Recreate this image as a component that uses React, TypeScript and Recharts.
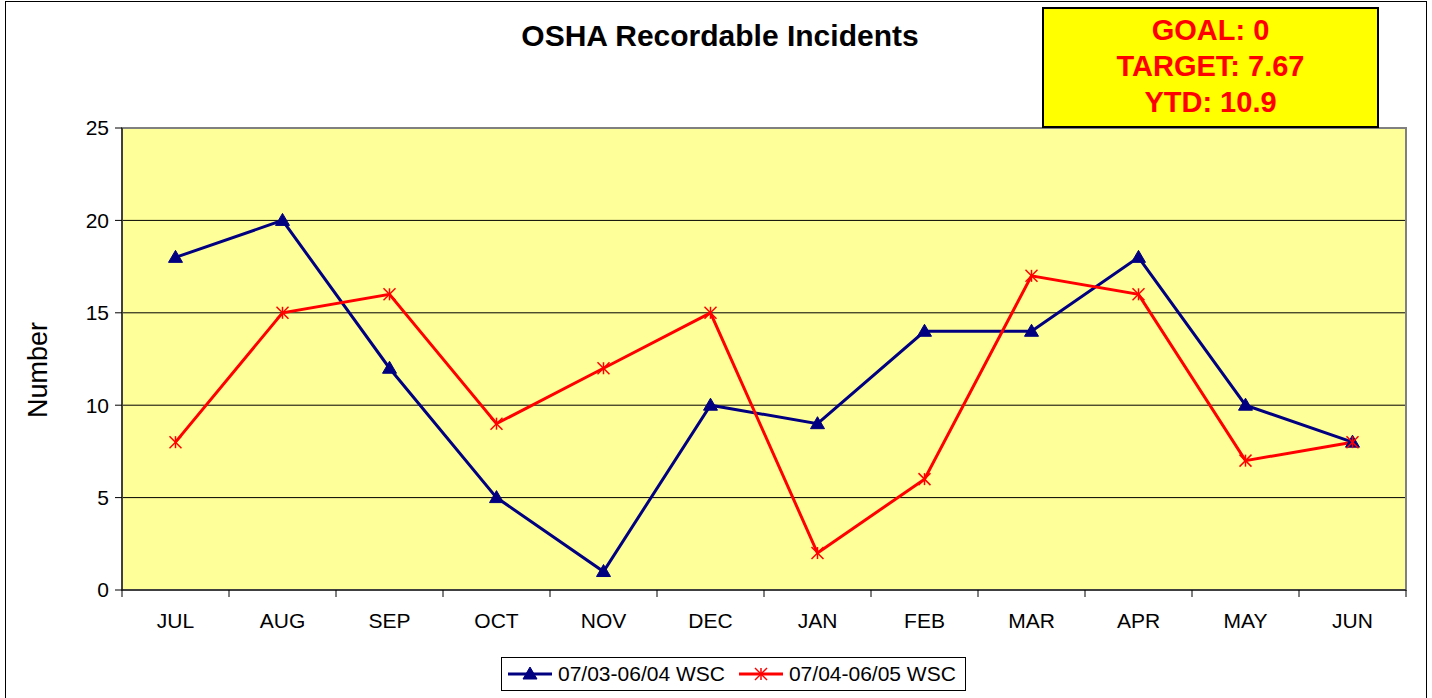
import { LineChart, Line, XAxis, YAxis, CartesianGrid, ReferenceArea } from 'recharts';

const months = ['JUL', 'AUG', 'SEP', 'OCT', 'NOV', 'DEC', 'JAN', 'FEB', 'MAR', 'APR', 'MAY', 'JUN'];
const wsc0304 = [18, 20, 12, 5, 1, 10, 9, 14, 14, 18, 10, 8];
const wsc0405 = [8, 15, 16, 9, 12, 15, 2, 6, 17, 16, 7, 8];
const yTicks = [0, 5, 10, 15, 20, 25];
const seriesNames = ['07/03-06/04 WSC', '07/04-06/05 WSC'];
const goalLines = ['GOAL: 0', 'TARGET: 7.67', 'YTD: 10.9'];

const BLUE = '#000080';
const RED = '#FF0000';
const FONT = 'Arial, "Liberation Sans", sans-serif';

const data = months.map((m, i) => ({ month: m, a: wsc0304[i], b: wsc0405[i] }));

function Triangle({ cx, cy }: any) {
  if (cx == null || cy == null) return null;
  return <path d={`M${cx},${cy - 7} L${cx + 7},${cy + 5} L${cx - 7},${cy + 5} Z`} fill={BLUE} stroke={BLUE} />;
}

function Star({ cx, cy }: any) {
  if (cx == null || cy == null) return null;
  const r = 6;
  return (
    <g stroke={RED} strokeWidth={1.5}>
      <line x1={cx} y1={cy - r} x2={cx} y2={cy + r} />
      <line x1={cx - r} y1={cy - r} x2={cx + r} y2={cy + r} />
      <line x1={cx - r} y1={cy + r} x2={cx + r} y2={cy - r} />
    </g>
  );
}

// tick y arrives shifted by tickSize + tickMargin, pull it back to the axis line
function MonthTick(props: any) {
  const { x, y, payload, index } = props;
  const half = payload?.offset || 53.5;
  const axisY = y - 8;
  return (
    <g>
      <line x1={x - half} y1={axisY} x2={x - half} y2={axisY + 7} stroke="#000" />
      {index === months.length - 1 && <line x1={x + half} y1={axisY} x2={x + half} y2={axisY + 7} stroke="#000" />}
      <text x={x} y={axisY + 38} textAnchor="middle" fontSize={21} fontFamily={FONT} fill="#000">
        {payload.value}
      </text>
    </g>
  );
}

export default function App() {
  return (
    <div style={{ position: 'relative', width: 1432, height: 698, background: '#fff', fontFamily: FONT }}>
      <style>{'body{margin:0}'}</style>
      <div style={{ position: 'absolute', left: 5, top: 1, width: 1422, height: 700, border: '1px solid #000', boxSizing: 'border-box' }} />
      <LineChart width={1432} height={698} data={data} margin={{ top: 128, right: 26, left: 62, bottom: 68 }}>
        <CartesianGrid vertical={false} stroke="#000" fill="#FFFF99" fillOpacity={1} />
        <ReferenceArea y1={0} y2={25} fill="none" stroke="#808080" strokeWidth={2} ifOverflow="visible" />
        <XAxis
          dataKey="month"
          scale="band"
          height={40}
          tickLine={false}
          axisLine={{ stroke: '#000' }}
          tick={<MonthTick />}
          interval={0}
        />
        <YAxis
          domain={[0, 25]}
          ticks={yTicks}
          width={60}
          tickSize={7}
          tickMargin={6}
          axisLine={{ stroke: '#000' }}
          tickLine={{ stroke: '#000' }}
          tick={{ fontSize: 21, fontFamily: FONT, fill: '#000' }}
          interval={0}
        />
        <Line dataKey="a" stroke={BLUE} strokeWidth={3} dot={<Triangle />} isAnimationActive={false} />
        <Line dataKey="b" stroke={RED} strokeWidth={3} dot={<Star />} isAnimationActive={false} />
      </LineChart>
      <div style={{ position: 'absolute', left: 0, top: 19, width: 1440, textAlign: 'center', fontSize: 30, fontWeight: 'bold', lineHeight: '34px' }}>
        OSHA Recordable Incidents
      </div>
      <div style={{ position: 'absolute', left: 38, top: 370, width: 0, height: 0 }}>
        <div style={{ position: 'absolute', left: 0, top: 0, transform: 'translate(-50%, -50%) rotate(-90deg)', fontSize: 27, whiteSpace: 'nowrap' }}>
          Number
        </div>
      </div>
      <div
        style={{
          position: 'absolute', left: 1042, top: 7, width: 337, height: 121, boxSizing: 'border-box',
          background: '#FFFF00', border: '2px solid #000', color: '#FF0000', fontWeight: 'bold', fontSize: 29,
          textAlign: 'center', lineHeight: '36px', paddingTop: 3,
        }}
      >
        {goalLines.map((t) => <div key={t}>{t}</div>)}
      </div>
      <div
        style={{
          position: 'absolute', left: 501, top: 657, width: 465, height: 34, boxSizing: 'border-box',
          border: '1px solid #000', background: '#fff', display: 'flex', alignItems: 'center', fontSize: 21,
          paddingLeft: 6, gap: 6,
        }}
      >
        <svg width={44} height={20}>
          <line x1={0} y1={10} x2={44} y2={10} stroke={BLUE} strokeWidth={3} />
          <Triangle cx={22} cy={10} />
        </svg>
        <span style={{ marginRight: 8 }}>{seriesNames[0]}</span>
        <svg width={44} height={20}>
          <line x1={0} y1={10} x2={44} y2={10} stroke={RED} strokeWidth={3} />
          <Star cx={22} cy={10} />
        </svg>
        <span>{seriesNames[1]}</span>
      </div>
    </div>
  );
}
